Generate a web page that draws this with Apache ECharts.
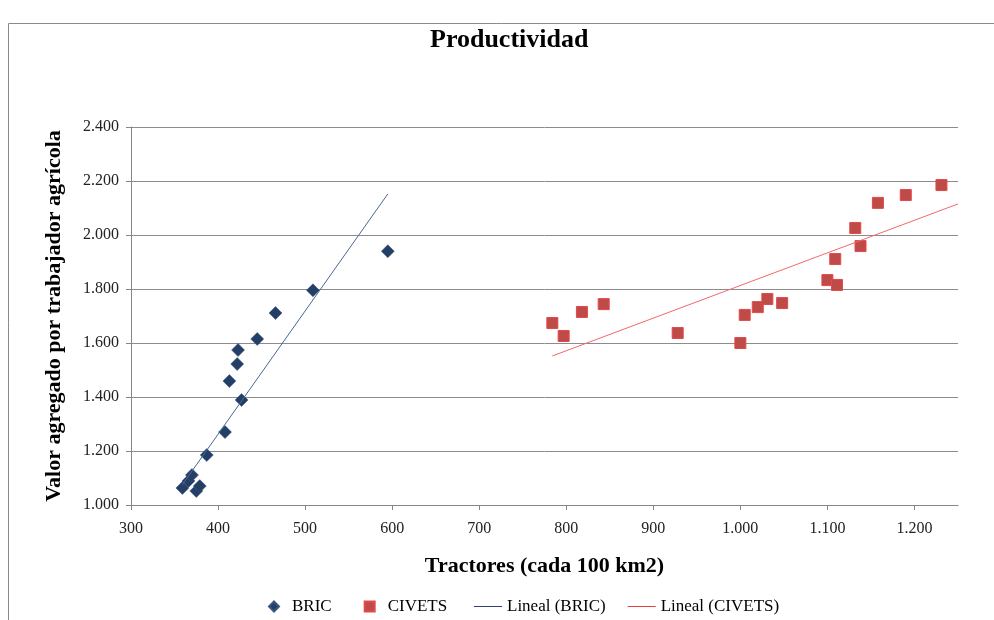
<!DOCTYPE html>
<html>
<head>
<meta charset="utf-8">
<title>Productividad</title>
<script src="https://cdn.jsdelivr.net/npm/echarts@6/dist/echarts.min.js"></script>
<style>
    html, body {margin: 0; padding: 0; background: #fff;}
    #main {width: 994px; height: 620px;}
</style>
</head>
<body>
<div id="main"></div>
<script>
    // valores
    var bricX = [359, 366, 370, 375, 379, 387, 408, 413, 422, 423, 427, 445, 466, 509, 595];
    var bricY = [1063, 1089, 1111, 1052, 1070, 1185, 1270, 1459, 1522, 1574, 1389, 1615, 1711, 1795, 1940];
    var civetsX = [784, 797, 818, 843, 928, 1000, 1005, 1020, 1031, 1048, 1100, 1111, 1109, 1132, 1138, 1158, 1190, 1231];
    var civetsY = [1674, 1626, 1715, 1744, 1637, 1600, 1704, 1733, 1763, 1748, 1833, 1815, 1911, 2026, 1959, 2119, 2148, 2185];
    // extremos de las lineas de tendencia
    var bricTrendX = [359, 595];
    var bricTrendY = [1075, 2152];
    var civetsTrendX = [784, 1250];
    var civetsTrendY = [1552, 2115];
    var xTicks = [300, 400, 500, 600, 700, 800, 900, 1000, 1100, 1200];
    var yTicks = [1000, 1200, 1400, 1600, 1800, 2000, 2200, 2400];

    var serif = '"Liberation Serif", "Times New Roman", serif';
    var lineIcon = 'path://M0 0H30V1H0Z';
    var diamondIcon = 'path://M5 0L10 5L5 10L0 5Z';
    var squareIcon = 'path://M0 0H10V10H0Z';

    function fmt(v) {
        return String(v).replace(/\B(?=(\d{3})+(?!\d))/g, '.');
    }
    function pairs(xs, ys) {
        var out = [];
        for (var i = 0; i < xs.length; i++) {
            out.push([xs[i], ys[i]]);
        }
        return out;
    }

    var myChart = echarts.init(document.getElementById('main'));
    var option = {
        animation: false,
        backgroundColor: '#fff',
        graphic: [{
            type: 'rect',
            z: -1,
            shape: {x: 8.5, y: 23.5, width: 1100, height: 700},
            style: {fill: 'none', stroke: '#8a8a8a', lineWidth: 1}
        }],
        title: {
            text: 'Productividad',
            left: 425,
            top: 22,
            textStyle: {fontFamily: serif, fontSize: 26, fontWeight: 'bold', color: '#000'}
        },
        grid: {left: 131, right: 36, top: 127, bottom: 115},
        legend: [{
            data: [{name: 'BRIC', icon: diamondIcon}, {name: 'CIVETS', icon: squareIcon}],
            left: 263,
            top: 593,
            itemWidth: 26,
            itemHeight: 10,
            itemGap: 32,
            symbolKeepAspect: true,
            textStyle: {fontFamily: serif, fontSize: 17, color: '#000'}
        }, {
            data: [{name: 'Lineal (BRIC)', icon: lineIcon}, {name: 'Lineal (CIVETS)', icon: lineIcon}],
            left: 469,
            top: 593,
            itemWidth: 28,
            itemHeight: 10,
            itemGap: 22,
            symbolKeepAspect: true,
            textStyle: {fontFamily: serif, fontSize: 17, color: '#000'}
        }],
        xAxis: {
            type: 'value',
            min: 300,
            max: 1250,
            interval: 100,
            name: 'Tractores (cada 100 km2)',
            nameLocation: 'middle',
            nameGap: 50,
            nameTextStyle: {fontFamily: serif, fontSize: 22, fontWeight: 'bold', color: '#000'},
            axisLine: {show: true, lineStyle: {color: '#868686'}},
            axisTick: {show: true, length: 5, customValues: xTicks, lineStyle: {color: '#868686'}},
            axisLabel: {
                customValues: xTicks,
                margin: 16,
                fontFamily: serif, fontSize: 16, color: '#222',
                formatter: fmt
            },
            splitLine: {show: false}
        },
        yAxis: {
            type: 'value',
            min: 1000,
            max: 2400,
            interval: 200,
            name: 'Valor agregado por trabajador agrícola',
            nameLocation: 'middle',
            nameGap: 66,
            nameTextStyle: {fontFamily: serif, fontSize: 22, fontWeight: 'bold', color: '#000'},
            axisLine: {show: true, lineStyle: {color: '#868686'}},
            axisTick: {show: true, length: 5, lineStyle: {color: '#868686'}},
            axisLabel: {
                margin: 12,
                fontFamily: serif, fontSize: 16, color: '#222',
                formatter: fmt
            },
            splitLine: {show: true, lineStyle: {color: '#8c8c8c', width: 1}}
        },
        series: [
            {
                name: 'BRIC',
                type: 'scatter',
                symbol: 'diamond',
                symbolSize: [13, 13],
                itemStyle: {color: '#243F66', borderColor: '#3a5580', borderWidth: 0.5, opacity: 1},
                data: pairs(bricX, bricY)
            },
            {
                name: 'CIVETS',
                type: 'scatter',
                symbol: 'rect',
                symbolSize: 11,
                itemStyle: {color: '#BE4B48', borderColor: '#E5484A', borderWidth: 1, opacity: 1},
                data: pairs(civetsX, civetsY)
            },
            {
                name: 'Lineal (BRIC)',
                type: 'line',
                symbol: 'none',
                color: '#1F3864',
                lineStyle: {color: '#4A6892', width: 1},
                data: pairs(bricTrendX, bricTrendY)
            },
            {
                name: 'Lineal (CIVETS)',
                type: 'line',
                symbol: 'none',
                color: '#E53333',
                lineStyle: {color: '#F06A6A', width: 1},
                data: pairs(civetsTrendX, civetsTrendY)
            }
        ]
    };
    myChart.setOption(option);
</script>
</body>
</html>
